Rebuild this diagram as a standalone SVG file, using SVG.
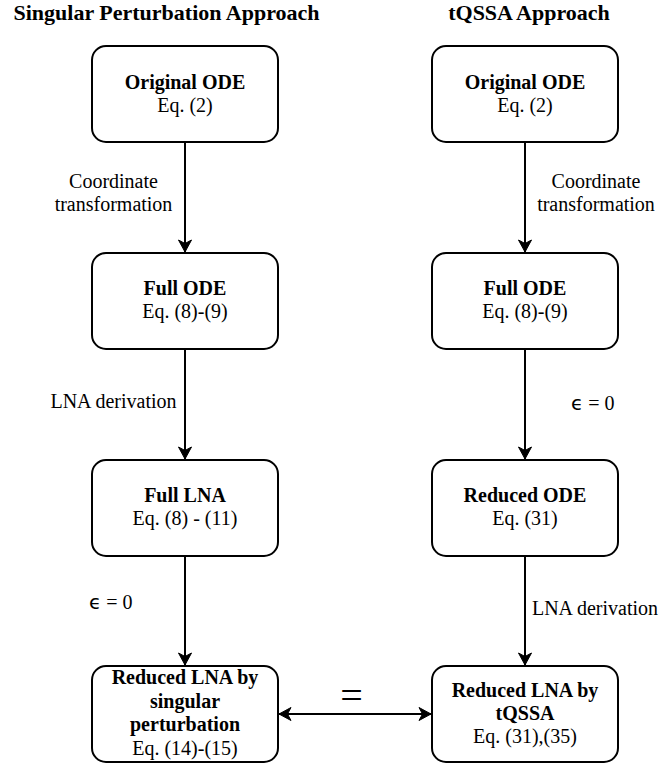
<svg xmlns="http://www.w3.org/2000/svg" width="661" height="765" viewBox="0 0 661 765">
<style>
.box{fill:#fff;stroke:#000;stroke-width:2}
.t{font-family:"Liberation Serif","Times New Roman",serif;font-size:20px;fill:#000;text-anchor:middle}
.b{font-weight:bold}
.title{font-family:"Liberation Serif","Times New Roman",serif;font-size:22px;font-weight:bold;fill:#000;text-anchor:middle}
.lbl{font-family:"Liberation Serif","Times New Roman",serif;font-size:20px;fill:#000}
.eq{font-family:"Liberation Serif","Times New Roman",serif;font-size:40px;fill:#000;text-anchor:middle}
.eps{font-family:"DejaVu Sans","Liberation Sans",sans-serif}
.edge{stroke:#000;stroke-width:2;fill:none}
</style>
<defs>
<marker id="arr" markerUnits="userSpaceOnUse" markerWidth="14" markerHeight="14" viewBox="-13 -7 14 14" refX="0" refY="0" orient="auto-start-reverse">
<path d="M0,0 L-12,-6.5 L-8.5,0 L-12,6.5 Z" fill="#000" stroke="#000" stroke-width="1"/>
</marker>
</defs>
<rect width="661" height="765" fill="#fff"/>
<text class="title" x="166.5" y="20">Singular Perturbation Approach</text>
<text class="title" x="529" y="20">tQSSA Approach</text>

<g id="connectors">
<line class="edge" x1="185" y1="142" x2="185" y2="252" marker-end="url(#arr)"/>
<line class="edge" x1="185" y1="349" x2="185" y2="459" marker-end="url(#arr)"/>
<line class="edge" x1="185" y1="556" x2="185" y2="665" marker-end="url(#arr)"/>
<line class="edge" x1="525" y1="142" x2="525" y2="252" marker-end="url(#arr)"/>
<line class="edge" x1="525" y1="349" x2="525" y2="459" marker-end="url(#arr)"/>
<line class="edge" x1="525" y1="556" x2="525" y2="665" marker-end="url(#arr)"/>
<line class="edge" x1="279" y1="714" x2="431" y2="714" marker-start="url(#arr)" marker-end="url(#arr)"/>
<text class="lbl" x="113.5" y="188" text-anchor="middle">Coordinate</text>
<text class="lbl" x="113.5" y="211" text-anchor="middle">transformation</text>
<text class="lbl" x="596" y="188" text-anchor="middle">Coordinate</text>
<text class="lbl" x="596" y="211" text-anchor="middle">transformation</text>
<text class="lbl" x="113.5" y="408" text-anchor="middle">LNA derivation</text>
<text class="lbl" x="571" y="410"><tspan class="eps">ϵ</tspan> = 0</text>
<text class="lbl" x="89" y="609"><tspan class="eps">ϵ</tspan> = 0</text>
<text class="lbl" x="595" y="615" text-anchor="middle">LNA derivation</text>
<text class="eq" x="351.5" y="709">=</text>
</g>

<g id="sp-original">
<rect class="box" x="92" y="46" width="186" height="96" rx="14"/>
<text class="t b" x="185" y="89">Original ODE</text>
<text class="t" x="185" y="112">Eq. (2)</text>
</g>
<g id="sp-full-ode">
<rect class="box" x="92" y="253" width="186" height="96" rx="14"/>
<text class="t b" x="185" y="295">Full ODE</text>
<text class="t" x="185" y="318">Eq. (8)-(9)</text>
</g>
<g id="sp-full-lna">
<rect class="box" x="92" y="460" width="186" height="96" rx="14"/>
<text class="t b" x="185" y="502">Full LNA</text>
<text class="t" x="185" y="525">Eq. (8) - (11)</text>
</g>
<g id="sp-reduced-lna">
<rect class="box" x="92" y="666" width="186" height="96" rx="14"/>
<text class="t b" x="185" y="684">Reduced LNA by</text>
<text class="t b" x="185" y="708">singular</text>
<text class="t b" x="185" y="731">perturbation</text>
<text class="t" x="185" y="755">Eq. (14)-(15)</text>
</g>

<g id="tq-original">
<rect class="box" x="432" y="46" width="186" height="96" rx="14"/>
<text class="t b" x="525" y="89">Original ODE</text>
<text class="t" x="525" y="112">Eq. (2)</text>
</g>
<g id="tq-full-ode">
<rect class="box" x="432" y="253" width="186" height="96" rx="14"/>
<text class="t b" x="525" y="295">Full ODE</text>
<text class="t" x="525" y="318">Eq. (8)-(9)</text>
</g>
<g id="tq-reduced-ode">
<rect class="box" x="432" y="460" width="186" height="96" rx="14"/>
<text class="t b" x="525" y="502">Reduced ODE</text>
<text class="t" x="525" y="525">Eq. (31)</text>
</g>
<g id="tq-reduced-lna">
<rect class="box" x="432" y="666" width="186" height="96" rx="14"/>
<text class="t b" x="525" y="697">Reduced LNA by</text>
<text class="t b" x="525" y="720">tQSSA</text>
<text class="t" x="525" y="743">Eq. (31),(35)</text>
</g>
</svg>
